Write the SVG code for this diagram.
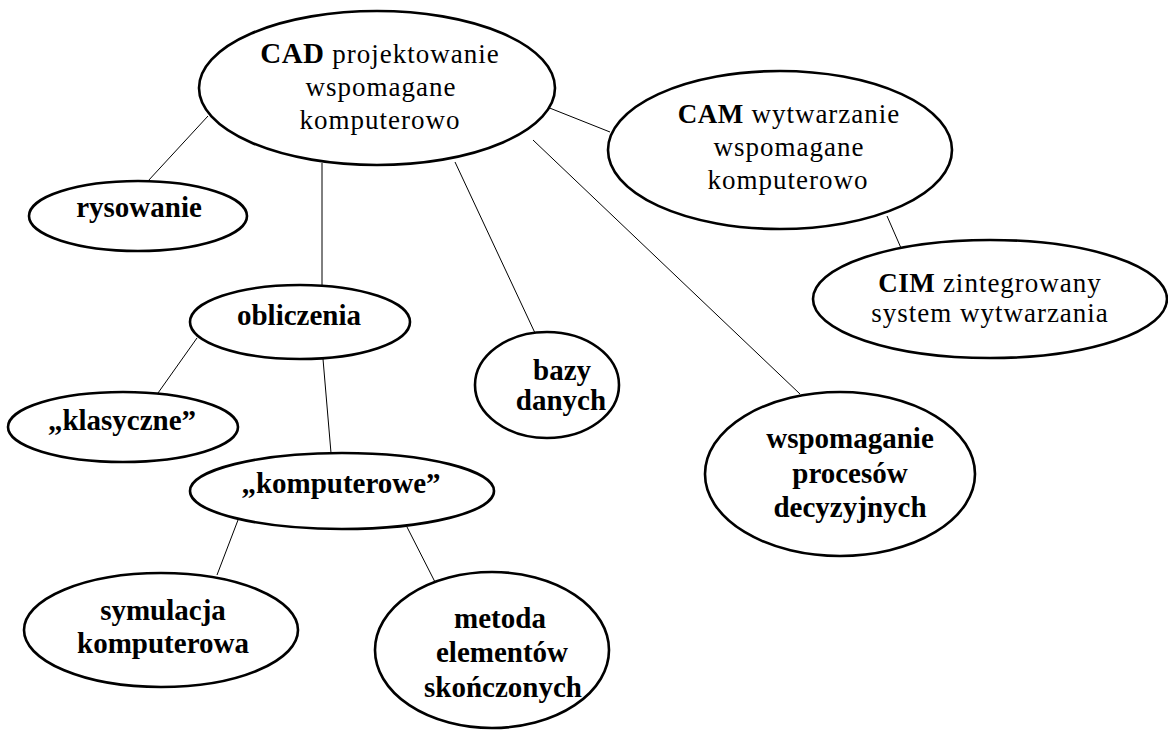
<svg xmlns="http://www.w3.org/2000/svg" width="1168" height="734" viewBox="0 0 1168 734">
  <style>
    .node ellipse { fill: #ffffff; stroke: #000000; stroke-width: 2.6; }
    .edges line { stroke: #000000; stroke-width: 1; }
    text { font-family: "Liberation Serif", "Times New Roman", serif; fill: #000000; text-anchor: middle; }
    .b { font-size: 29px; font-weight: bold; }
    .r { font-size: 27px; font-weight: normal; letter-spacing: 1px; }
    .h { font-weight: bold; letter-spacing: 0.5px; }
  </style>
  <rect x="0" y="0" width="1168" height="734" fill="#ffffff"/>

  <!-- connectors -->
  <g id="connectors" class="edges">
    <line x1="208" y1="116" x2="148" y2="181"/>
    <line x1="322" y1="163" x2="322" y2="286"/>
    <line x1="455" y1="162" x2="535" y2="333"/>
    <line x1="533" y1="140" x2="800" y2="394"/>
    <line x1="537" y1="103" x2="610" y2="132"/>
    <line x1="887" y1="216" x2="901" y2="248"/>
    <line x1="197" y1="338" x2="158" y2="393"/>
    <line x1="323" y1="359" x2="331" y2="453"/>
    <line x1="238" y1="520" x2="217" y2="575"/>
    <line x1="407" y1="527" x2="435" y2="582"/>
  </g>

  <g id="cad" class="node">
    <ellipse cx="377" cy="88" rx="178" ry="77"/>
    <text x="380" y="63" class="r"><tspan class="h" font-size="29">CAD</tspan> projektowanie</text>
    <text x="381" y="96" class="r">wspomagane</text>
    <text x="380" y="129" class="r">komputerowo</text>
  </g>

  <g id="cam" class="node">
    <ellipse cx="780" cy="150" rx="172" ry="79"/>
    <text x="789" y="123" class="r"><tspan class="h">CAM</tspan> wytwarzanie</text>
    <text x="789" y="156" class="r">wspomagane</text>
    <text x="788" y="189" class="r">komputerowo</text>
  </g>

  <g id="cim" class="node">
    <ellipse cx="990" cy="299" rx="177" ry="59"/>
    <text x="990" y="292" class="r"><tspan class="h">CIM</tspan> zintegrowany</text>
    <text x="990" y="322" class="r">system wytwarzania</text>
  </g>

  <g id="rysowanie" class="node">
    <ellipse cx="138" cy="216" rx="109" ry="35"/>
    <text x="139" y="217" class="b">rysowanie</text>
  </g>

  <g id="obliczenia" class="node">
    <ellipse cx="300" cy="322" rx="110" ry="37"/>
    <text x="299" y="325" class="b">obliczenia</text>
  </g>

  <g id="klasyczne" class="node">
    <ellipse cx="123" cy="427" rx="115" ry="35"/>
    <text x="122" y="430" class="b">„klasyczne”</text>
  </g>

  <g id="komputerowe" class="node">
    <ellipse cx="342" cy="491" rx="152" ry="38"/>
    <text x="341" y="493" class="b">„komputerowe”</text>
  </g>

  <g id="symulacja" class="node">
    <ellipse cx="161" cy="630" rx="137" ry="57"/>
    <text x="163" y="620" class="b">symulacja</text>
    <text x="163" y="653" class="b">komputerowa</text>
  </g>

  <g id="metoda" class="node">
    <ellipse cx="492" cy="650" rx="117" ry="78"/>
    <text x="500" y="628" class="b">metoda</text>
    <text x="502" y="662" class="b">elementów</text>
    <text x="503" y="697" class="b">skończonych</text>
  </g>

  <g id="bazy" class="node">
    <ellipse cx="547" cy="385" rx="72" ry="53"/>
    <text x="562" y="380" class="b">bazy</text>
    <text x="561" y="410" class="b">danych</text>
  </g>

  <g id="wspomaganie" class="node">
    <ellipse cx="840" cy="474" rx="135" ry="82"/>
    <text x="850" y="448" class="b">wspomaganie</text>
    <text x="850" y="483" class="b">procesów</text>
    <text x="850" y="517" class="b">decyzyjnych</text>
  </g>
</svg>
